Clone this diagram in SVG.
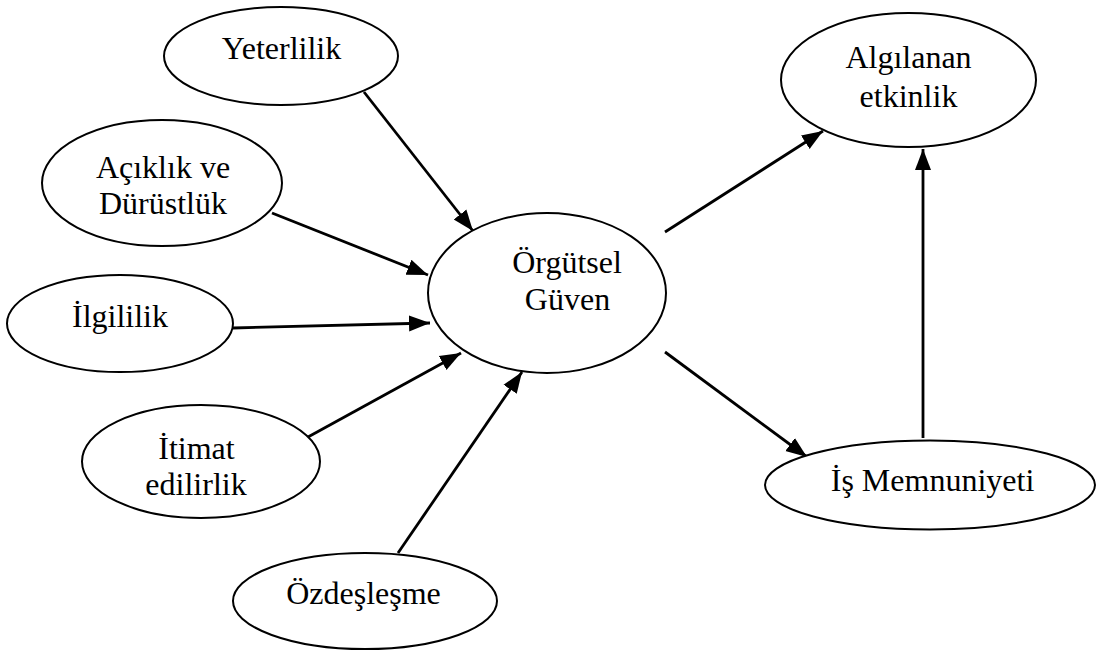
<svg xmlns="http://www.w3.org/2000/svg" width="1096" height="651" viewBox="0 0 1096 651">
<style>
.node ellipse{fill:#fff;stroke:#000;stroke-width:2}
.node text{font-family:"Liberation Serif","Times New Roman",serif;font-size:32px;fill:#000;text-anchor:middle}
.edge{stroke:#000;stroke-width:2.8;fill:none;marker-end:url(#arr)}
</style>
<defs>
<marker id="arr" markerUnits="userSpaceOnUse" markerWidth="24" markerHeight="18" refX="21" refY="9" orient="auto">
<path d="M0,1 L21,9 L0,17 z" fill="#000"/>
</marker>
</defs>
<rect width="1096" height="651" fill="#fff"/>
<g id="connectors">
<line class="edge" x1="364" y1="92" x2="473" y2="231"/>
<line class="edge" x1="272" y1="213" x2="428" y2="275"/>
<line class="edge" x1="233" y1="328" x2="430" y2="323"/>
<line class="edge" x1="308" y1="437" x2="461" y2="353"/>
<line class="edge" x1="398" y1="553" x2="522" y2="372"/>
<line class="edge" x1="665" y1="232" x2="823" y2="131"/>
<line class="edge" x1="665" y1="352" x2="807" y2="457"/>
<line class="edge" x1="923" y1="438" x2="923" y2="149"/>
</g>
<g id="yeterlilik" class="node">
<ellipse cx="281" cy="56" rx="117" ry="49"/>
<text x="281.5" y="59">Yeterlilik</text>
</g>
<g id="aciklik" class="node">
<ellipse cx="162" cy="183" rx="120" ry="63"/>
<text x="163" y="178">Açıklık ve</text>
<text x="163" y="214">Dürüstlük</text>
</g>
<g id="ilgililik" class="node">
<ellipse cx="120" cy="323.5" rx="113" ry="48.5"/>
<text x="120" y="327">İlgililik</text>
</g>
<g id="itimat" class="node">
<ellipse cx="201" cy="461.5" rx="119" ry="56.5"/>
<text x="196.5" y="459">İtimat</text>
<text x="196" y="495">edilirlik</text>
</g>
<g id="ozdeslesme" class="node">
<ellipse cx="365" cy="601" rx="132" ry="48"/>
<text x="363.5" y="604">Özdeşleşme</text>
</g>
<g id="orgutsel" class="node">
<ellipse cx="547" cy="293" rx="119" ry="80"/>
<text x="567" y="273">Örgütsel</text>
<text x="567.5" y="310">Güven</text>
</g>
<g id="algilanan" class="node">
<ellipse cx="908.5" cy="80" rx="127.5" ry="67"/>
<text x="908.5" y="68">Algılanan</text>
<text x="908.5" y="107">etkinlik</text>
</g>
<g id="is-memnuniyeti" class="node">
<ellipse cx="930" cy="485" rx="165" ry="44.5"/>
<text x="932.5" y="491">İş Memnuniyeti</text>
</g>
</svg>
